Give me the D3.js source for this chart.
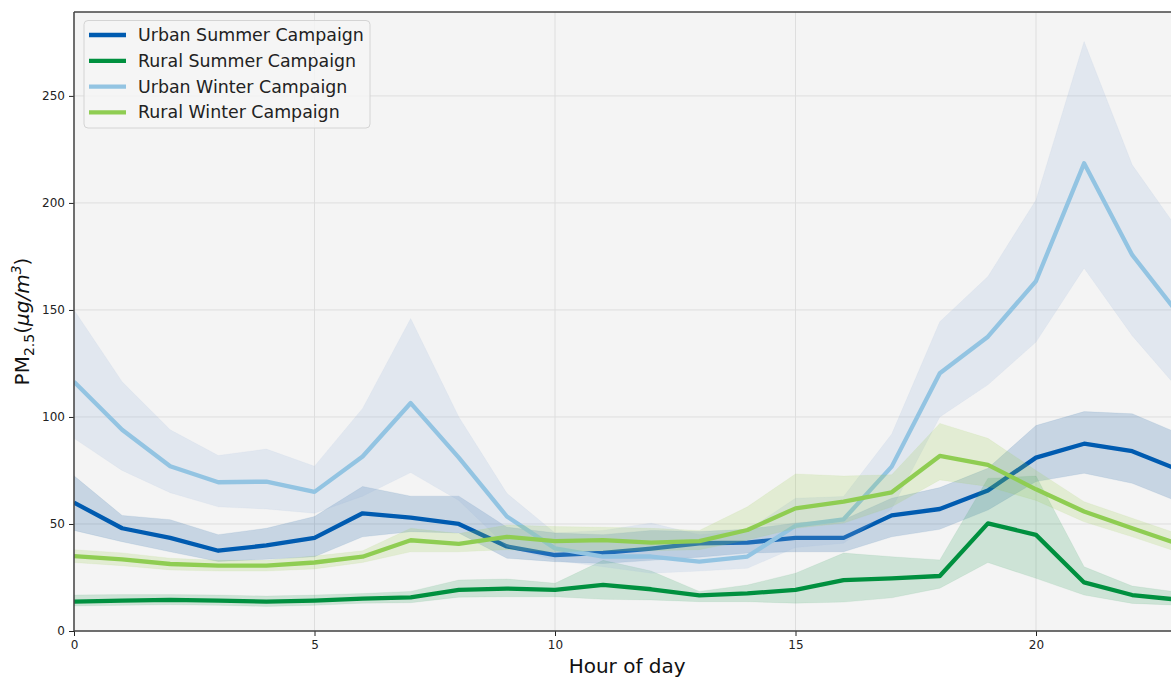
<!DOCTYPE html>
<html><head><meta charset="utf-8">
<script src="https://cdn.jsdelivr.net/npm/d3@7"></script>
<style>body{margin:0;background:#fff}svg{display:block}text{font-family:"DejaVu Sans",sans-serif}</style>
</head><body>
<svg id="c" width="1171" height="678"></svg>
<script>
const hours = d3.range(0, 24);
const seriesNames = ["Urban Summer Campaign","Rural Summer Campaign","Urban Winter Campaign","Rural Winter Campaign"];
const urbanSummer      = [60,48,43.5,37.5,40,43.5,55,53,50,39.5,35.5,36.5,38.5,41,41.3,43.5,43.5,54,57,65.6,81,87.5,84,75];
const urbanSummerUpper = [72.5,54,52,45,48,53.5,67.5,63,63,48.5,45.8,45,47,46.5,47.5,50.5,52,62,67,76,96,102.5,101.5,92];
const urbanSummerLower = [47,41.7,37,32.5,33.5,34.7,44,46.4,45.8,34,32.4,31.5,33,34.5,36.4,37,37,44,47.5,56.5,69.8,73.7,69,60];
const ruralSummer      = [13.7,14.2,14.5,14.2,13.7,14.2,15.1,15.7,19.2,19.8,19.2,21.5,19.5,16.6,17.6,19.2,23.8,24.6,25.7,50.3,44.9,22.7,16.8,14.5];
const ruralSummerUpper = [16.8,17,17,16.8,16.3,16.8,17.5,18.5,23.8,24.3,22.3,33,28,18.5,21.5,27,36.4,34.7,33.2,71.3,72.4,30,21,18];
const ruralSummerLower = [11.7,12,12.3,12,11.5,12,13,13.2,15.8,16,16,14.8,14.5,13.7,13.7,13,13.5,15.5,20,32,24.6,16.8,12.9,12];
const urbanWinter      = [116.5,94,77,69.5,69.8,65,81.5,106.5,81,53.5,38.6,34.8,34.8,32.4,34.8,49.2,52.2,76.8,120.4,137.5,163.5,218.5,175.7,147];
const urbanWinterUpper = [150,116.5,94,82,85,77,104,146,100,64.3,45.8,47,50.4,45,47,62,62.8,92,144.5,165.6,201.4,275.4,217.8,186];
const urbanWinterLower = [90,75,64.6,58,57,55,63,74,61,39.4,33,30,27,28,29.3,39,41,57,100,115,135,169.5,138,112];
const ruralWinter      = [35,33.5,31.3,30.5,30.5,32,34.7,42.4,40.7,44,42,42.5,41.3,42,47.2,57.3,60.4,64.8,81.8,77.6,66.2,55.8,48,40.3];
const ruralWinterUpper = [38,36.5,34,33,33,35,37.5,48,45.5,49.5,48.8,48.5,48,47,58,73.4,72.4,73,97,90,75,60.4,52.7,45];
const ruralWinterLower = [32,30.5,28.5,28,28,29,32,37,37,38,37,37.5,37.5,38,42.5,48,50.4,58,70.6,67.5,61,51,44,36.5];
const xTicks = [0,5,10,15,20];
const yTicks = [0,50,100,150,200,250];

const colors = ["#005bb0","#00903f","#93c4e2","#8fcd52"];
const bandColors = ["#13599f","#319f5e","#95b3db","#9acc4f"];
const means = [urbanSummer, ruralSummer, urbanWinter, ruralWinter];
const uppers = [urbanSummerUpper, ruralSummerUpper, urbanWinterUpper, ruralWinterUpper];
const lowers = [urbanSummerLower, ruralSummerLower, urbanWinterLower, ruralWinterLower];

const L=74, T=12, B=631, R=1180.3;
const svg = d3.select("#c");
const x = d3.scaleLinear().domain([0,23]).range([L,R]);
const y = d3.scaleLinear().domain([0,289.2]).range([B,T]);

svg.append("defs").append("clipPath").attr("id","clip").append("rect")
  .attr("x",L).attr("y",T).attr("width",R-L).attr("height",B-T);

svg.append("rect").attr("x",L).attr("y",T).attr("width",R-L).attr("height",B-T).attr("fill","#f4f4f4");

const grid = svg.append("g").attr("stroke","#dedede").attr("stroke-width",1);
xTicks.forEach(t=>grid.append("line").attr("x1",x(t)).attr("x2",x(t)).attr("y1",T).attr("y2",B));
yTicks.forEach(t=>grid.append("line").attr("x1",L).attr("x2",R).attr("y1",y(t)).attr("y2",y(t)));

const plot = svg.append("g").attr("clip-path","url(#clip)");
const area = d3.area().x((d,i)=>x(hours[i])).y0(d=>y(d[0])).y1(d=>y(d[1]));
const line = d3.line().x((d,i)=>x(hours[i])).y(d=>y(d));
for (let s=0;s<4;s++){
  const band = lowers[s].map((v,i)=>[v,uppers[s][i]]);
  plot.append("path").attr("d",area(band)).attr("fill",bandColors[s]).attr("fill-opacity",0.2)
    .attr("stroke",bandColors[s]).attr("stroke-opacity",0.08);
  plot.append("path").attr("d",line(means[s])).attr("fill","none").attr("stroke",colors[s])
    .attr("stroke-width",4.3).attr("stroke-linejoin","round");
}

// axes
const xAxis = svg.append("g").attr("transform",`translate(0,${B})`)
  .call(d3.axisBottom(x).tickValues(xTicks).tickSize(5).tickPadding(4).tickFormat(d3.format("d")));
const yAxis = svg.append("g").attr("transform",`translate(${L},0)`)
  .call(d3.axisLeft(y).tickValues(yTicks).tickSize(5).tickPadding(4).tickFormat(d3.format("d")));
[xAxis,yAxis].forEach(g=>{
  g.select(".domain").remove();
  g.selectAll(".tick line").attr("stroke","#222").attr("stroke-width",1);
  g.selectAll(".tick text").attr("fill","#222").style("font-size","12px").style("font-family","DejaVu Sans");
});
// spines
svg.append("line").attr("x1",L).attr("x2",R).attr("y1",T).attr("y2",T).attr("stroke","#444").attr("stroke-width",1.5);
svg.append("line").attr("x1",L).attr("x2",R).attr("y1",B).attr("y2",B).attr("stroke","#444").attr("stroke-width",1.5);
svg.append("line").attr("x1",L).attr("x2",L).attr("y1",T).attr("y2",B).attr("stroke","#444").attr("stroke-width",1.5);

// axis labels
svg.append("text").attr("x",(L+R)/2).attr("y",673).attr("text-anchor","middle")
  .style("font-size","20px").attr("fill","#111").text("Hour of day");
const yl = svg.append("text").attr("transform",`translate(29,${(T+B)/2}) rotate(-90)`)
  .attr("text-anchor","middle").style("font-size","20px").attr("fill","#111");
yl.append("tspan").text("PM");
yl.append("tspan").attr("dy",5).style("font-size","14px").text("2.5");
yl.append("tspan").attr("dy",-5).text("(");
yl.append("tspan").style("font-style","italic").text("μg/m");
yl.append("tspan").attr("dy",-8).style("font-size","14px").style("font-style","italic").text("3");
yl.append("tspan").attr("dy",8).text(")");

// legend
const lg = svg.append("g");
lg.append("rect").attr("x",84).attr("y",20.5).attr("width",286).attr("height",107.5).attr("rx",4)
  .attr("fill","#f4f4f4").attr("fill-opacity",0.85).attr("stroke","#d4d4d4").attr("stroke-width",1);
seriesNames.forEach((n,i)=>{
  const yy = 35 + i*25.8;
  lg.append("line").attr("x1",89).attr("x2",126).attr("y1",yy).attr("y2",yy).attr("stroke",colors[i]).attr("stroke-width",4.3);
  lg.append("text").attr("x",138).attr("y",yy+6).style("font-size","17.4px").attr("fill","#222").text(n);
});
</script>
</body></html>
